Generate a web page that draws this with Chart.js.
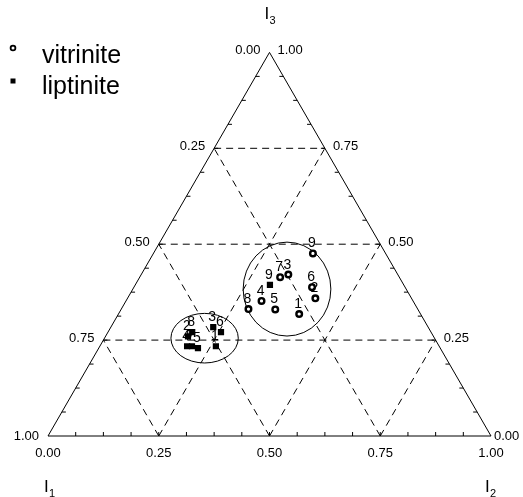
<!DOCTYPE html>
<html>
<head>
<meta charset="utf-8">
<script src="https://cdn.jsdelivr.net/npm/chart.js@4.4.1/dist/chart.umd.min.js"></script>
<style>
html, body { margin: 0; padding: 0; background: #fff; }
canvas { display: block; }
</style>
</head>
<body>
<canvas id="chart" width="523" height="497"></canvas>
<script>
// ternary data (I1, I2, I3)
const VIT_NAMES = ['1','2','3','4','5','6','7','8','9'];
const VIT_I1 = [0.274, 0.217, 0.247, 0.342, 0.322, 0.210, 0.269, 0.382, 0.164];
const VIT_I2 = [0.408, 0.424, 0.332, 0.306, 0.348, 0.402, 0.317, 0.287, 0.360];
const VIT_I3 = [0.318, 0.359, 0.421, 0.352, 0.330, 0.388, 0.414, 0.331, 0.476];

const LIP_NAMES = ['1','2','3','4','5','6','7','8','9'];
const LIP_I1 = [0.504, 0.554, 0.485, 0.569, 0.547, 0.474, 0.558, 0.539, 0.302];
const LIP_I2 = [0.262, 0.186, 0.231, 0.197, 0.224, 0.255, 0.208, 0.190, 0.304];
const LIP_I3 = [0.234, 0.260, 0.284, 0.234, 0.229, 0.271, 0.234, 0.271, 0.394];

// enclosing ellipses (centre in I2/I3, radii in axis units)
const ELL_I2 = [0.348, 0.226];
const ELL_I3 = [0.383, 0.255];
const ELL_RX = [0.099, 0.076];
const ELL_RY = [0.106, 0.056];

const AXIS_TICKS = [0, 0.25, 0.5, 0.75, 1];
const MINOR_STEPS = 16;
const SERIES_NAMES = ['vitrinite', 'liptinite'];

const H = Math.sqrt(3) / 2;
const FONT = '"Liberation Sans", Arial, sans-serif';

function toXY(i2, i3) { return { x: i2 + i3 / 2, y: i3 * H }; }

function buildPoints(i2s, i3s) {
    return i2s.map((v, i) => toXY(v, i3s[i]));
}

// 三角図の枠・グリッド・目盛り・ラベル
const ternaryPlugin = {
    id: 'ternary',
    beforeDatasetsDraw(chart) {
        const { ctx, scales: { x, y } } = chart;
        const P = (i2, i3) => { const p = toXY(i2, i3); return [x.getPixelForValue(p.x), y.getPixelForValue(p.y)]; };
        const line = (a, b) => { ctx.beginPath(); ctx.moveTo(a[0], a[1]); ctx.lineTo(b[0], b[1]); ctx.stroke(); };
        ctx.save();
        ctx.strokeStyle = '#000';
        ctx.lineWidth = 1;

        // dashed grid
        ctx.setLineDash([7, 5]);
        AXIS_TICKS.slice(1, -1).forEach(c => {
            line(P(0, c), P(1 - c, c));
            line(P(1 - c, 0), P(0, 1 - c));
            line(P(c, 0), P(c, 1 - c));
        });
        ctx.setLineDash([]);

        // ellipses
        ELL_I2.forEach((c2, i) => {
            const p = toXY(c2, ELL_I3[i]);
            const cx = x.getPixelForValue(p.x), cy = y.getPixelForValue(p.y);
            const rx = x.getPixelForValue(p.x + ELL_RX[i]) - cx;
            const ry = cy - y.getPixelForValue(p.y + ELL_RY[i]);
            ctx.beginPath();
            ctx.ellipse(cx, cy, rx, ry, 0, 0, Math.PI * 2);
            ctx.stroke();
        });

        // triangle
        const A = P(0, 0), B = P(1, 0), C = P(0, 1);
        ctx.beginPath();
        ctx.moveTo(A[0], A[1]); ctx.lineTo(B[0], B[1]); ctx.lineTo(C[0], C[1]); ctx.closePath();
        ctx.stroke();

        // minor ticks
        for (let k = 1; k < MINOR_STEPS; k++) {
            const t = k / MINOR_STEPS;
            const b = P(t, 0), l = P(0, t), r = P(1 - t, t);
            line(b, [b[0], b[1] - 4]);
            line(l, [l[0] + 4, l[1]]);
            line(r, [r[0] - 4, r[1]]);
        }

        // tick labels
        ctx.fillStyle = '#000';
        ctx.font = '13px ' + FONT;
        ctx.textBaseline = 'middle';
        AXIS_TICKS.forEach(t => {
            const txt = t.toFixed(2);
            const b = P(t, 0);
            ctx.textAlign = 'center';
            ctx.fillText(txt, b[0], b[1] + 17);
            const l = P(0, 1 - t);
            ctx.textAlign = 'right';
            ctx.fillText(txt, l[0] - 9, l[1] - (t === 1 ? 0 : 2));
            const r = P(1 - t, t);
            ctx.textAlign = 'left';
            ctx.fillText(txt, r[0] + (t === 0 ? 3 : 8), r[1] - (t === 0 ? 0 : 2));
        });

        // axis titles
        const title = (sub, px, py) => {
            ctx.textAlign = 'left';
            ctx.textBaseline = 'alphabetic';
            ctx.font = '17px ' + FONT;
            ctx.fillText('I', px, py);
            ctx.font = '11px ' + FONT;
            ctx.fillText(sub, px + 5, py + 5);
        };
        title('1', A[0] - 4, A[1] + 56);
        title('2', B[0] - 6, B[1] + 56);
        title('3', C[0] - 5, C[1] - 33);
        ctx.restore();
    },
    afterDatasetsDraw(chart) {
        const { ctx } = chart;
        ctx.save();
        ctx.fillStyle = '#000';
        ctx.font = '14px ' + FONT;
        ctx.textAlign = 'center';
        ctx.textBaseline = 'alphabetic';
        [VIT_NAMES, LIP_NAMES].forEach((names, di) => {
            chart.getDatasetMeta(di).data.forEach((el, i) => {
                ctx.fillText(names[i], el.x - 1, el.y - 6);
            });
        });

        // legend
        ctx.font = '25px ' + FONT;
        ctx.textAlign = 'left';
        ctx.strokeStyle = '#000';
        ctx.lineWidth = 1.8;
        ctx.beginPath();
        ctx.arc(13, 48, 2.4, 0, Math.PI * 2);
        ctx.stroke();
        ctx.fillRect(10.5, 78.5, 5, 5);
        ctx.fillText(SERIES_NAMES[0], 42, 63);
        ctx.fillText(SERIES_NAMES[1], 42, 94);
        ctx.restore();
    }
};

new Chart(document.getElementById('chart'), {
    type: 'scatter',
    data: {
        datasets: [
            {
                label: SERIES_NAMES[0],
                data: buildPoints(VIT_I2, VIT_I3),
                pointStyle: 'circle',
                pointRadius: 2.8,
                borderWidth: 2.4,
                borderColor: '#000',
                backgroundColor: '#fff'
            },
            {
                label: SERIES_NAMES[1],
                data: buildPoints(LIP_I2, LIP_I3),
                pointStyle: 'rect',
                pointRadius: 4.4,
                borderWidth: 0,
                borderColor: '#000',
                backgroundColor: '#000'
            }
        ]
    },
    options: {
        responsive: false,
        animation: false,
        devicePixelRatio: 1,
        layout: { padding: { left: 48, right: 32, top: 52.4, bottom: 61 } },
        scales: {
            x: { type: 'linear', min: 0, max: 1, display: false },
            y: { type: 'linear', min: 0, max: H, display: false }
        },
        plugins: { legend: { display: false }, tooltip: { enabled: false } },
        events: []
    },
    plugins: [ternaryPlugin]
});
</script>
</body>
</html>
